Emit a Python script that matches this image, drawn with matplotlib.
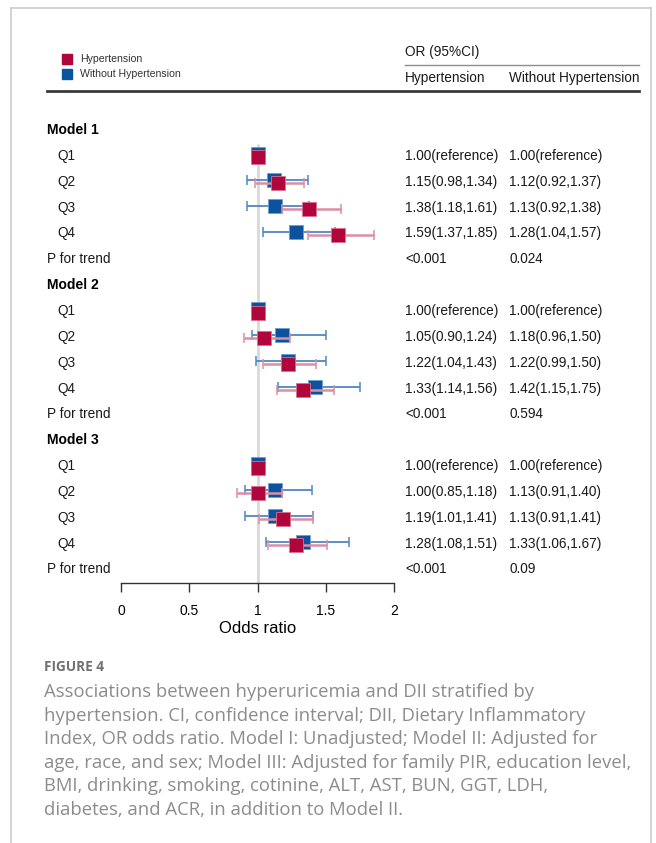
"""Forest plot: hyperuricemia vs DII stratified by hypertension (Figure 4)."""

import matplotlib
matplotlib.use("Agg")
from matplotlib import pyplot as plt
from matplotlib.lines import Line2D

W, H = 656, 843

# ---- data -------------------------------------------------------------
row_labels = ["Model 1", "Q1", "Q2", "Q3", "Q4", "P for trend",
              "Model 2", "Q1", "Q2", "Q3", "Q4", "P for trend",
              "Model 3", "Q1", "Q2", "Q3", "Q4", "P for trend"]
header_rows = [0, 6, 12]
quartile_rows = [1, 2, 3, 4, 7, 8, 9, 10, 13, 14, 15, 16]

# Hypertension
hyp_or = [1.00, 1.15, 1.38, 1.59, 1.00, 1.05, 1.22, 1.33, 1.00, 1.00, 1.19, 1.28]
hyp_lo = [1.00, 0.98, 1.18, 1.37, 1.00, 0.90, 1.04, 1.14, 1.00, 0.85, 1.01, 1.08]
hyp_hi = [1.00, 1.34, 1.61, 1.85, 1.00, 1.24, 1.43, 1.56, 1.00, 1.18, 1.41, 1.51]
hyp_p = ["<0.001", "<0.001", "<0.001"]

# Without hypertension
noh_or = [1.00, 1.12, 1.13, 1.28, 1.00, 1.18, 1.22, 1.42, 1.00, 1.13, 1.13, 1.33]
noh_lo = [1.00, 0.92, 0.92, 1.04, 1.00, 0.96, 0.99, 1.15, 1.00, 0.91, 0.91, 1.06]
noh_hi = [1.00, 1.37, 1.38, 1.57, 1.00, 1.50, 1.50, 1.75, 1.00, 1.40, 1.41, 1.67]
noh_p = ["0.024", "0.594", "0.09"]

x_ticks = [0, 0.5, 1, 1.5, 2]
x_ticklabels = ["0", "0.5", "1", "1.5", "2"]

caption_lines = [
    "Associations between hyperuricemia and DII stratified by",
    "hypertension. CI, confidence interval; DII, Dietary Inflammatory",
    "Index, OR odds ratio. Model I: Unadjusted; Model II: Adjusted for",
    "age, race, and sex; Model III: Adjusted for family PIR, education level,",
    "BMI, drinking, smoking, cotinine, ALT, AST, BUN, GGT, LDH,",
    "diabetes, and ACR, in addition to Model II.",
]

RED = "#b0063b"
BLUE = "#0b539e"

plt.rcParams["font.family"] = ["Liberation Sans", "DejaVu Sans"]

fig = plt.figure(figsize=(W / 100, H / 100), dpi=100)


def fx(px):
    return px / W


def fy(py):
    return 1 - py / H


def ftext(px, py, s, **kw):
    kw.setdefault("va", "center")
    kw.setdefault("color", "#1a1a1a")
    fig.text(fx(px), fy(py), s, **kw)


# panel border (top, left, right)
for xs, ys in [((11, 651), (8, 8)), ((11, 11), (8, H)), ((651, 651), (8, H))]:
    fig.add_artist(Line2D([fx(xs[0]), fx(xs[1])], [fy(ys[0]), fy(ys[1])],
                          color="#cccccc", lw=1.2))

# ---- forest axes ------------------------------------------------------
row0, step = 130, 25.85
ax_top, ax_bot = 100, 583
ax = fig.add_axes([fx(121), fy(ax_bot), fx(394) - fx(121), (ax_bot - ax_top) / H])
ax.set_xlim(0, 2)
ax.set_ylim((ax_bot - row0) / step, (ax_top - row0) / step)
ax.patch.set_visible(False)
for side in ["top", "left", "right"]:
    ax.spines[side].set_visible(False)
ax.spines["bottom"].set_color("#333333")
ax.spines["bottom"].set_linewidth(1.0)
ax.set_yticks([])
ax.set_xticks(x_ticks)
ax.set_xticklabels(x_ticklabels, fontsize=10)
ax.tick_params(axis="x", direction="out", length=6.5, width=1.0,
               color="#333333", pad=8.5)
ax.set_xlabel("Odds ratio", fontsize=12, labelpad=2.5)

# reference line at OR = 1
ax.plot([1, 1], [0.55, (ax_bot - row0) / step], color="#d9d9d9", lw=2,
        zorder=1, solid_capstyle="butt")

yq = [r + 0.06 for r in quartile_rows]
yb = [r - 0.07 for r in quartile_rows]

# without hypertension (blue) first, hypertension (red) on top
for i in range(len(quartile_rows)):
    if noh_lo[i] != noh_hi[i]:
        ax.errorbar(noh_or[i], yb[i],
                    xerr=[[noh_or[i] - noh_lo[i]], [noh_hi[i] - noh_or[i]]],
                    fmt="none", ecolor="#4f87c4", elinewidth=1.3,
                    capsize=3.8, capthick=1.1, zorder=2)
ax.plot(noh_or, yb, "s", color=BLUE, markersize=9.8, mec="#6f9bd0",
        mew=0.6, ls="none", zorder=3)

for i in range(len(quartile_rows)):
    if hyp_lo[i] != hyp_hi[i]:
        ax.errorbar(hyp_or[i], yq[i],
                    xerr=[[hyp_or[i] - hyp_lo[i]], [hyp_hi[i] - hyp_or[i]]],
                    fmt="none", ecolor="#dc8ea4", elinewidth=1.8,
                    capsize=3.8, capthick=1.1, zorder=4)
ax.plot(hyp_or, yq, "s", color=RED, markersize=9.8, mec="#d8708e",
        mew=0.6, ls="none", zorder=5)

# ---- text columns -----------------------------------------------------
fmt_ci = "{:.2f}({:.2f},{:.2f})"
qi = 0
mi = 0
for r, lab in enumerate(row_labels):
    py = row0 + r * step
    if r in header_rows:
        ftext(47, py, lab, fontsize=10, fontweight="bold", color="black")
    elif lab == "P for trend":
        ftext(47, py, lab, fontsize=9.8)
        ftext(405, py, hyp_p[mi], fontsize=9.8)
        ftext(509, py, noh_p[mi], fontsize=9.8)
        mi += 1
    else:
        ftext(57, py, lab, fontsize=9.8)
        if hyp_lo[qi] == hyp_hi[qi]:
            s1 = "1.00(reference)"
        else:
            s1 = fmt_ci.format(hyp_or[qi], hyp_lo[qi], hyp_hi[qi])
        if noh_lo[qi] == noh_hi[qi]:
            s2 = "1.00(reference)"
        else:
            s2 = fmt_ci.format(noh_or[qi], noh_lo[qi], noh_hi[qi])
        ftext(405, py, s1, fontsize=9.8)
        ftext(509, py, s2, fontsize=9.8)
        qi += 1

# header
ftext(405, 52, "OR (95%CI)", fontsize=9.8)
fig.add_artist(Line2D([fx(405), fx(639)], [fy(65), fy(65)], color="#8c8c8c", lw=1.0))
ftext(405, 78, "Hypertension", fontsize=9.8)
ftext(509, 78, "Without Hypertension", fontsize=9.8)
fig.add_artist(Line2D([fx(47), fx(639)], [fy(91), fy(91)], color="#3a3a3a", lw=2.0))

# legend
fig.add_artist(Line2D([fx(67)], [fy(59)], marker="s", color=RED, markersize=6.5, ls="none"))
fig.add_artist(Line2D([fx(67)], [fy(74)], marker="s", color=BLUE, markersize=6.5, ls="none"))
ftext(80, 59, "Hypertension", fontsize=7.6, color="#333333")
ftext(80, 74, "Without Hypertension", fontsize=7.6, color="#333333")

# caption
ftext(44, 667, "FIGURE 4", fontsize=9.8, fontweight="bold", color="#707070",
      family=["Open Sans", "DejaVu Sans"])
for k, line in enumerate(caption_lines):
    ftext(44, 692 + k * 23.6, line, fontsize=13.3, color="#8c8c8c",
          family=["Open Sans", "DejaVu Sans"])

fig.savefig("out.png", dpi=100)
